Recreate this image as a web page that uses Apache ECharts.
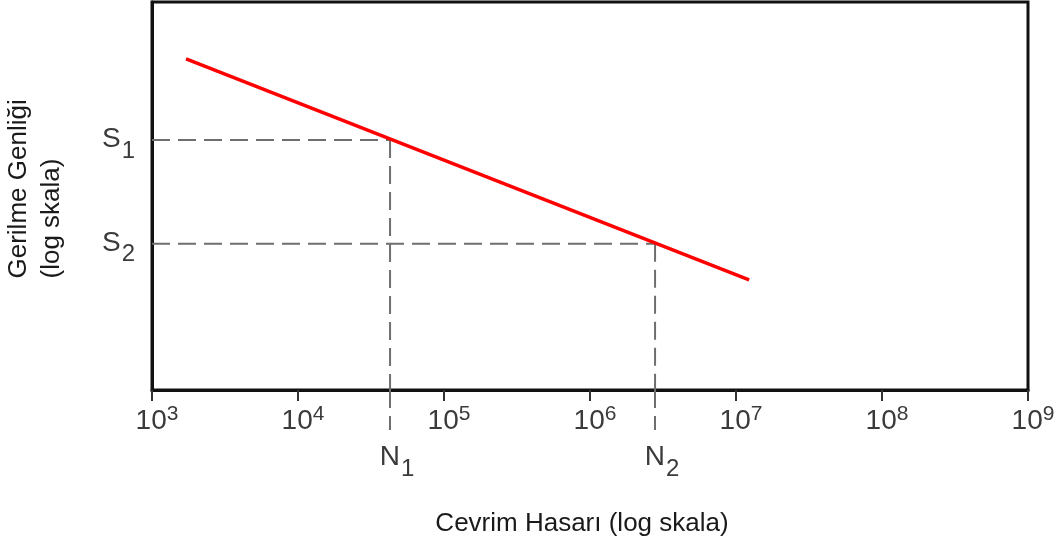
<!DOCTYPE html>
<html><head><meta charset="utf-8">
<script src="https://cdn.jsdelivr.net/npm/echarts@6/dist/echarts.min.js"></script>
<style>html,body{margin:0;padding:0;background:#fff}#c{width:1057px;height:547px}</style>
</head><body><div id="c"></div>
<script>
// Data (log-log S-N curve)
const xRange = [1e3, 1e9];
const yRange = [1, 1000];
const curveN = [1711, 1.23e7];
const curveS = [363, 7.1];
const markN = [42700, 2.79e6];
const markS = [85.8, 13.5];
const nLabels = ['N', 'N'];
const nSubs = ['1', '2'];
const sLabels = ['S', 'S'];
const sSubs = ['1', '2'];
const xTitle = 'Cevrim Hasarı (log skala)';
const yTitle = ['Gerilme Genliği', '(log skala)'];

const FONT = '"Liberation Sans", Arial, sans-serif';
const dash = { color: '#6e6e6e', width: 2, type: [18, 8] };
const LBL = '#3a3a3a';

const curve = curveN.map((n, i) => [n, curveS[i]]);
const dashed = [];
markN.forEach((n, i) => {
  dashed.push({ type: 'line', data: [[xRange[0], markS[i]], [n, markS[i]]], symbol: 'none', lineStyle: dash, silent: true, z: 1 });
  dashed.push({ type: 'line', data: [[n, markS[i]], [n, yRange[0]]], symbol: 'none', lineStyle: dash, silent: true, z: 1 });
});

const supRich = {
  b: { fontFamily: FONT, fontSize: 28, color: LBL, lineHeight: 30, padding: [3, 0, 0, 0], verticalAlign: 'top' },
  s: { fontFamily: FONT, fontSize: 21, color: LBL, lineHeight: 21, verticalAlign: 'top' }
};
const subRich = {
  b: { fontFamily: FONT, fontSize: 28, color: LBL, lineHeight: 30, verticalAlign: 'top' },
  s: { fontFamily: FONT, fontSize: 24, color: LBL, lineHeight: 24, padding: [14, 0, 0, 1], verticalAlign: 'top' }
};
function nearest(arr, v) {
  let k = 0, best = Infinity;
  arr.forEach((a, i) => { const d = Math.abs(Math.log10(a) - Math.log10(v)); if (d < best) { best = d; k = i; } });
  return k;
}

const chart = echarts.init(document.getElementById('c'));
chart.setOption({
  animation: false,
  grid: { left: 152, right: 29, top: 2, bottom: 157, show: true, borderColor: '#111', borderWidth: 3, backgroundColor: '#fff', containLabel: false, outerBoundsMode: 'none' },
  xAxis: [{
    type: 'log', logBase: 10, min: xRange[0], max: xRange[1], interval: 1,
    name: xTitle, nameLocation: 'middle', nameGap: 121,
    nameTextStyle: { fontFamily: FONT, fontSize: 26, color: '#1a1a1a', padding: [0, 16, 0, 0] },
    axisLine: { show: true, lineStyle: { color: '#111', width: 3 } },
    axisTick: { show: true, length: 11, lineStyle: { color: '#333', width: 2 } },
    splitLine: { show: false },
    axisLabel: {
      margin: 14, fontSize: 28, fontFamily: FONT, color: LBL, padding: [0, 0, 0, 10],
      formatter: v => '{b|10}{s|' + Math.round(Math.log10(v)) + '}',
      rich: supRich
    }
  }, {
    type: 'log', logBase: 10, min: xRange[0], max: xRange[1], position: 'bottom',
    axisLine: { show: false },
    splitLine: { show: false },
    axisTick: { show: true, customValues: markN, length: 40, lineStyle: dash },
    axisLabel: {
      show: true, customValues: markN, margin: 53, fontSize: 28, fontFamily: FONT, color: LBL, padding: [0, 0, 0, 14],
      formatter: v => { const k = nearest(markN, v); return '{b|' + nLabels[k] + '}{s|' + nSubs[k] + '}'; },
      rich: subRich
    }
  }],
  yAxis: {
    type: 'log', logBase: 10, min: yRange[0], max: yRange[1],
    name: yTitle.map(t => '{a|' + t + '}').join('\n'), nameLocation: 'middle', nameRotate: 90, nameGap: 84,
    nameTextStyle: {
      padding: [0, 0, 0, 17],
      rich: { a: { fontFamily: FONT, fontSize: 26, color: '#1a1a1a', lineHeight: 33, width: 182, align: 'left' } }
    },
    axisLine: { show: true, lineStyle: { color: '#111', width: 3 } },
    axisTick: { show: false },
    splitLine: { show: false },
    axisLabel: {
      show: true, customValues: markS, margin: 17, fontSize: 28, fontFamily: FONT, color: LBL,
      formatter: v => { const k = nearest(markS, v); return '{b|' + sLabels[k] + '}{s|' + sSubs[k] + '}'; },
      rich: subRich
    }
  },
  series: dashed.concat([{
    type: 'line', data: curve, symbol: 'none', silent: true, z: 3,
    lineStyle: { color: '#ff0000', width: 3.5 }
  }])
});
</script>
</body></html>
